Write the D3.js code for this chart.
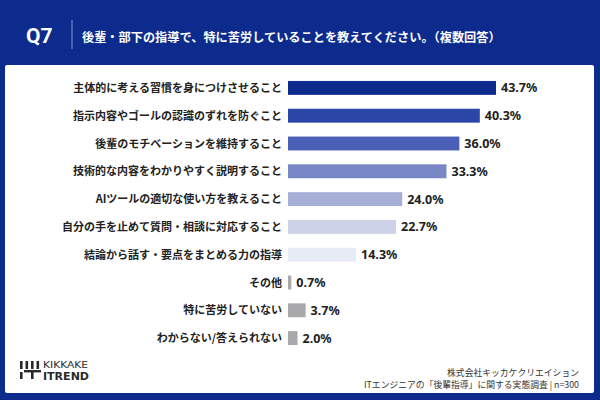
<!DOCTYPE html>
<html>
<head>
<meta charset="utf-8">
<script src="https://cdn.jsdelivr.net/npm/d3@7"></script>
<style>
  body { margin: 0; background: #0c2b8d; }
  svg { display: block; font-family: "Noto Sans CJK JP", "Noto Sans", sans-serif; }
</style>
</head>
<body>
<svg width="600" height="400"></svg>
<script>
var categories = [
  "主体的に考える習慣を身につけさせること",
  "指示内容やゴールの認識のずれを防ぐこと",
  "後輩のモチベーションを維持すること",
  "技術的な内容をわかりやすく説明すること",
  "AIツールの適切な使い方を教えること",
  "自分の手を止めて質問・相談に対応すること",
  "結論から話す・要点をまとめる力の指導",
  "その他",
  "特に苦労していない",
  "わからない/答えられない"
];
var values = [43.7, 40.3, 36.0, 33.3, 24.0, 22.7, 14.3, 0.7, 3.7, 2.0];
var barColors = ["#0d2a8c", "#2b46a6", "#4b5fb6", "#7986c6", "#a8afd7", "#cdd2e9", "#e7ebf6", "#a9a9ab", "#a9a9ab", "#a9a9ab"];

var svg = d3.select("svg");

// header
svg.append("rect").attr("x", 0).attr("y", 0).attr("width", 600).attr("height", 400).attr("fill", "#0c2b8d");
svg.append("text").attr("x", 26).attr("y", 43)
  .attr("fill", "#fff").style("font-size", "21px").style("font-weight", "bold")
  .style("font-family", "Roboto, 'Noto Sans', sans-serif").text("Q7");
svg.append("line").attr("x1", 72).attr("x2", 72).attr("y1", 20).attr("y2", 49)
  .attr("stroke", "#6f86d0").attr("stroke-width", 1.2);
svg.append("text").attr("x", 82).attr("y", 41.5)
  .attr("fill", "#fff").style("font-size", "12.2px").style("font-weight", "bold")
  .text("後輩・部下の指導で、特に苦労していることを教えてください。（複数回答）");

// panel
svg.append("rect").attr("x", 5).attr("y", 65).attr("width", 589).attr("height", 328)
  .attr("rx", 2).attr("fill", "#fff");

var x = d3.scaleLinear().domain([0, 43.7]).range([288, 496]);
var y = d3.scaleBand().domain(categories).range([74, 352]).paddingInner(0.5).paddingOuter(0.25);

var rows = svg.append("g").selectAll("g").data(categories).enter().append("g");

rows.append("rect")
  .attr("x", x(0))
  .attr("y", function(d) { return y(d); })
  .attr("width", function(d, i) { return Math.max(x(values[i]) - x(0), 1.5); })
  .attr("height", y.bandwidth())
  .attr("fill", function(d, i) { return barColors[i]; });

rows.append("text")
  .attr("x", 282)
  .attr("y", function(d) { return y(d) + y.bandwidth() / 2 + 4; })
  .attr("text-anchor", "end")
  .attr("fill", "#222")
  .style("font-size", "11px").style("font-weight", "bold")
  .text(function(d) { return d; });

rows.append("text")
  .attr("x", function(d, i) { return Math.max(x(values[i]), x(0) + 1.5) + 5; })
  .attr("y", function(d) { return y(d) + y.bandwidth() / 2 + 4.5; })
  .attr("fill", "#222")
  .style("font-size", "12.5px").style("font-weight", "bold")
  .style("font-family", "'Noto Sans', sans-serif")
  .text(function(d, i) { return values[i].toFixed(1) + "%"; });

// logo
var logo = svg.append("g").attr("fill", "#2a2a2a");
[0, 1, 2, 3].forEach(function(k) {
  logo.append("rect").attr("x", 20 + k * 5.5).attr("y", 361).attr("width", 2.6).attr("height", 8);
});
logo.append("rect").attr("x", 20).attr("y", 372).attr("width", 2.6).attr("height", 7);
logo.append("rect").attr("x", 24).attr("y", 370).attr("width", 17).attr("height", 2.4);
logo.append("rect").attr("x", 31).attr("y", 370).attr("width", 2.6).attr("height", 9);
logo.append("text").attr("x", 43).attr("y", 368).style("font-size", "8.5px")
  .attr("textLength", 45).attr("lengthAdjust", "spacingAndGlyphs")
  .style("font-family", "'DejaVu Sans', sans-serif").text("KIKKAKE");
logo.append("text").attr("x", 43).attr("y", 379.5).style("font-size", "11px").style("font-weight", "bold")
  .attr("textLength", 46).attr("lengthAdjust", "spacingAndGlyphs")
  .style("font-family", "'DejaVu Sans', sans-serif").text("ITREND");

// source
svg.append("text").attr("x", 579).attr("y", 376).attr("text-anchor", "end")
  .attr("fill", "#333").style("font-size", "8.8px").text("株式会社キッカケクリエイション");
svg.append("text").attr("x", 579).attr("y", 388).attr("text-anchor", "end")
  .attr("fill", "#333").style("font-size", "8.8px").text("ITエンジニアの「後輩指導」に関する実態調査 | n=300");
</script>
</body>
</html>
